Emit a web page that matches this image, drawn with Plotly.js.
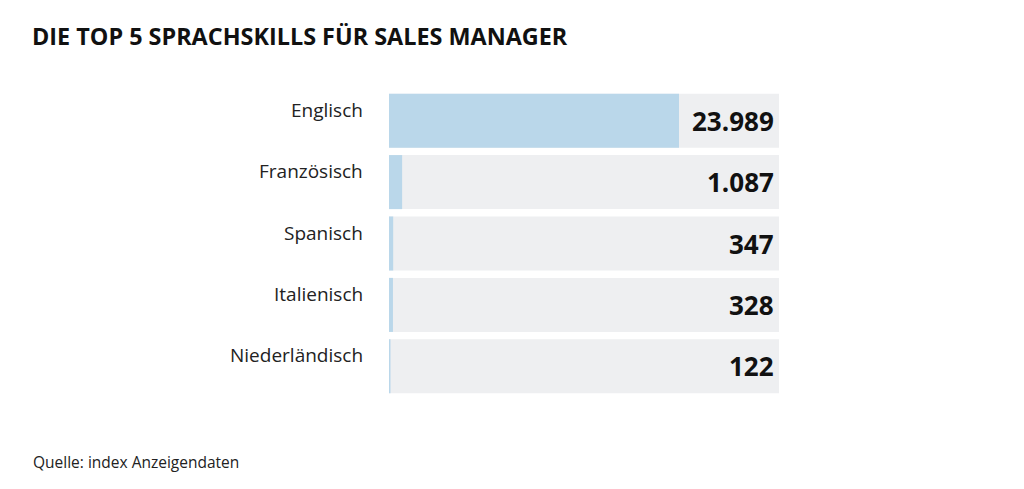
<!DOCTYPE html>
<html><head><meta charset="utf-8">
<script src="https://cdn.plot.ly/plotly-3.0.1.min.js"></script>
<style>html,body{margin:0;padding:0;background:#fff}</style>
</head><body>
<div id="chart" style="width:1024px;height:489px"></div>
<script>
const categories = ["Englisch", "Französisch", "Spanisch", "Italienisch", "Niederländisch"];
const values = [23989, 1087, 347, 328, 122];
const valueLabels = ["23.989", "1.087", "347", "328", "122"];
const scaleMax = 32260;
const background = categories.map(() => scaleMax);

const font = "'Open Sans', sans-serif";

const traces = [
  {type: "bar", orientation: "h", y: categories, x: background,
   marker: {color: "#eeeff1"}, hoverinfo: "skip", showlegend: false},
  {type: "bar", orientation: "h", y: categories, x: values,
   marker: {color: "#bad7ea"}, showlegend: false}
];

const annotations = [];
categories.forEach((c, i) => {
  annotations.push({x: 0, xref: "paper", y: c, yref: "y", text: c, showarrow: false,
    xanchor: "right", yanchor: "middle", xshift: -24, yshift: 11,
    font: {family: font, size: 19, color: "#222"}});
  annotations.push({x: 1, xref: "paper", y: c, yref: "y", text: valueLabels[i], showarrow: false,
    xanchor: "right", yanchor: "middle", xshift: -3, yshift: 0,
    font: {family: font, size: 26, color: "#111", weight: 700}});
});
annotations.push({x: 0, xref: "paper", y: 0, yref: "paper", text: "Quelle: index Anzeigendaten",
  showarrow: false, xanchor: "left", yanchor: "middle", xshift: -358, yshift: -65,
  font: {family: font, size: 15.5, color: "#222"}});

const layout = {
  width: 1024, height: 489,
  margin: {l: 389, r: 245, t: 90, b: 92},
  paper_bgcolor: "#fff", plot_bgcolor: "#fff",
  barmode: "overlay", bargap: 0.12,
  title: {text: "<b>DIE TOP 5 SPRACHSKILLS FÜR SALES MANAGER</b>", xanchor: "left",
    yref: "container", yanchor: "top", pad: {t: 0},
    font: {family: font, size: 23.4, color: "#111"}},
  xaxis: {range: [0, scaleMax], visible: false, fixedrange: true},
  yaxis: {autorange: "reversed", showticklabels: false, showgrid: false, zeroline: false, fixedrange: true},
  annotations: annotations,
  showlegend: false
};
layout.title.x = 32/1024; layout.title.xref = "container"; layout.title.y = 1 - 29/489;

Plotly.newPlot("chart", traces, layout, {displayModeBar: false, staticPlot: true});
</script>
</body></html>
